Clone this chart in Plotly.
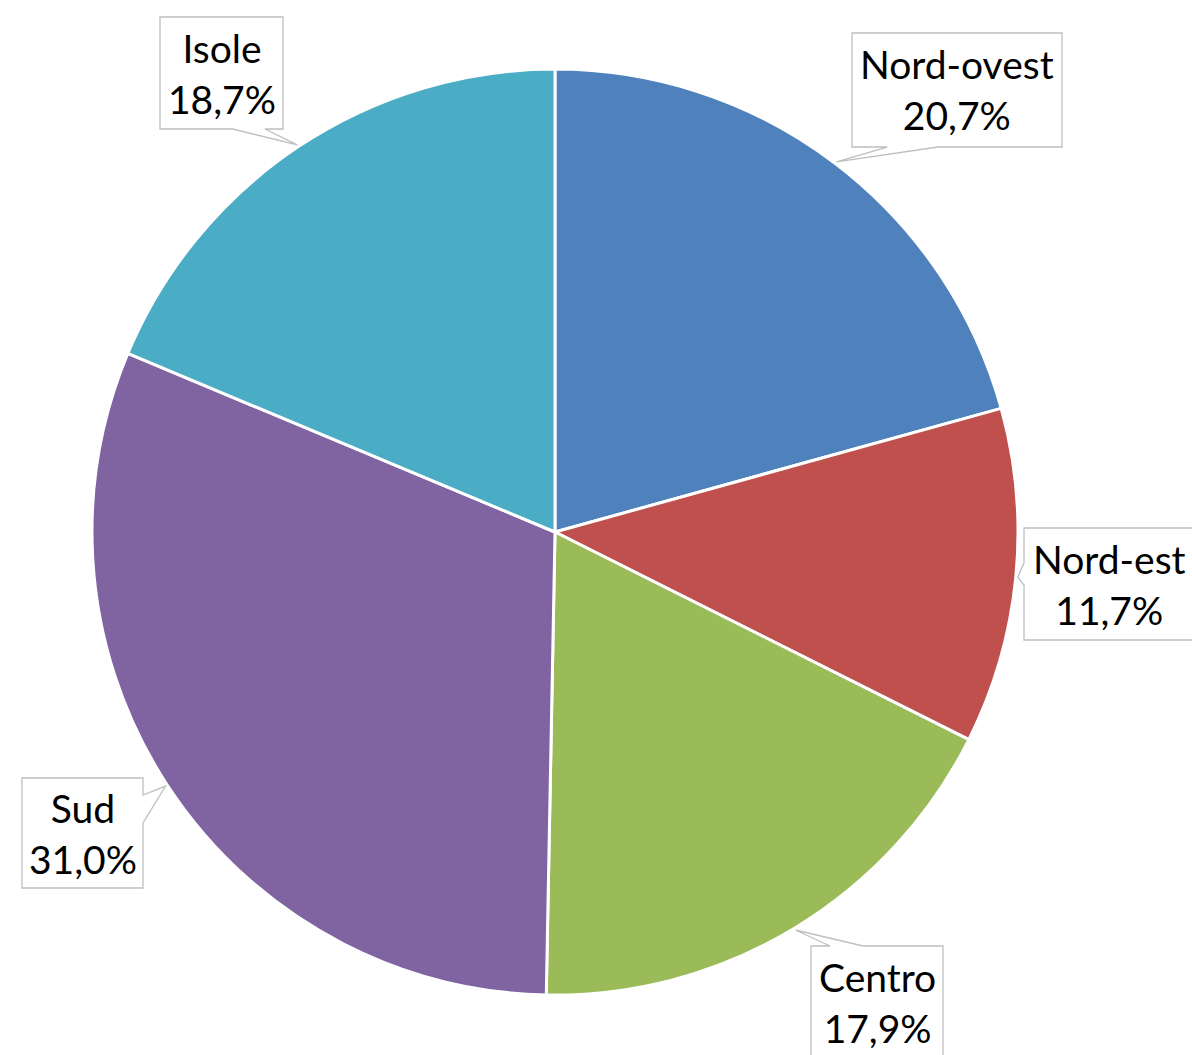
import math
import plotly.graph_objects as go

# ---- data ----
regions = ["Nord-ovest", "Nord-est", "Centro", "Sud", "Isole"]
shares = [20.7, 11.7, 17.9, 31.0, 18.7]
colors = ["#4F81BD", "#C0504D", "#9BBB59", "#8064A2", "#4BACC6"]

W, H = 1192, 1055
CX, CY, R = 555, 532, 463  # pie centre / radius in pixels

# label box layout (pixel centre, size) and callout wedge (edge, offsets along edge)
label_layout = {
    "Nord-ovest": dict(cx=957, cy=90, w=210, h=114, edge="bottom", o1=35, o2=86),
    "Nord-est": dict(cx=1109, cy=584, w=170, h=112, edge="left", o1=35, o2=57),
    "Centro": dict(cx=877, cy=1002, w=132, h=112, edge="top", o1=19, o2=52),
    "Sud": dict(cx=82.5, cy=833, w=121, h=110, edge="right", o1=17, o2=45),
    "Isole": dict(cx=221.5, cy=73, w=123, h=112, edge="bottom", o1=73, o2=105),
}


def px(x, y):
    return x / W, 1 - y / H


fig = go.Figure(
    go.Pie(
        labels=regions,
        values=shares,
        sort=False,
        direction="clockwise",
        rotation=0,
        marker=dict(colors=colors, line=dict(color="white", width=3)),
        textinfo="none",
        hoverinfo="label+percent",
        showlegend=False,
        domain=dict(x=[(CX - R) / W, (CX + R) / W], y=[1 - (CY + R) / H, 1 - (CY - R) / H]),
    )
)

total = sum(shares)
shapes = []
annotations = []
cum = 0.0
for name, v in zip(regions, shares):
    mid = (cum + v / 2) / total * 2 * math.pi
    cum += v
    tip = (CX + (R + 2) * math.sin(mid), CY - (R + 2) * math.cos(mid))
    lay = label_layout[name]
    cx, cy, w, h = lay["cx"], lay["cy"], lay["w"], lay["h"]
    L, Rr, T, B = cx - w / 2, cx + w / 2, cy - h / 2, cy + h / 2
    o1, o2, edge = lay["o1"], lay["o2"], lay["edge"]
    pts = [(L, T)]
    if edge == "top":
        pts += [(L + o1, T), tip, (L + o2, T)]
    pts.append((Rr, T))
    if edge == "right":
        pts += [(Rr, T + o1), tip, (Rr, T + o2)]
    pts.append((Rr, B))
    if edge == "bottom":
        pts += [(L + o2, B), tip, (L + o1, B)]
    pts.append((L, B))
    if edge == "left":
        pts += [(L, T + o2), tip, (L, T + o1)]
    path = ""
    for i, (x, y) in enumerate(pts):
        xp, yp = px(x, y)
        path += ("M" if i == 0 else " L") + f" {xp:.5f},{yp:.5f}"
    path += " Z"
    shapes.append(
        dict(type="path", xref="paper", yref="paper", path=path,
             fillcolor="white", line=dict(color="#BFBFBF", width=1.3), layer="above")
    )
    ax, ay = px(cx, cy)
    pct = f"{v:.1f}".replace(".", ",") + "%"
    annotations.append(
        dict(x=ax, y=ay, xref="paper", yref="paper", xanchor="center", yanchor="middle",
             text=f"{name}<br>{pct}", showarrow=False,
             font=dict(family="Lato, Carlito, Calibri, sans-serif", size=39, color="#000000"))
    )

fig.update_layout(
    width=W,
    height=H,
    margin=dict(l=0, r=0, t=0, b=0),
    paper_bgcolor="white",
    plot_bgcolor="white",
    shapes=shapes,
    annotations=annotations,
)

fig.write_html(
    "out.html",
    config={"displayModeBar": False},
    post_script="document.body.style.margin='0';document.body.style.padding='0';document.body.style.overflow='hidden';",
)
